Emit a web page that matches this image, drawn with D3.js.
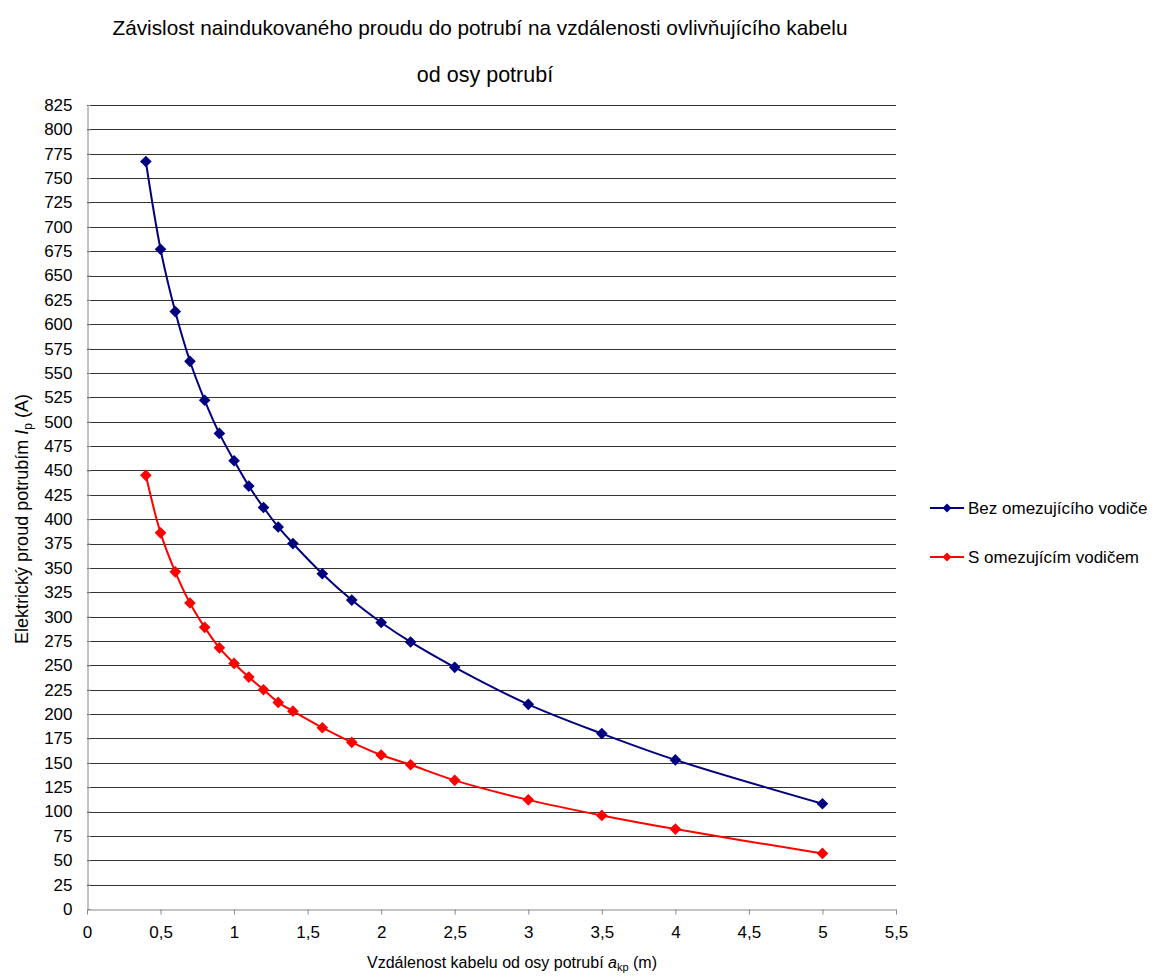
<!DOCTYPE html>
<html>
<head>
<meta charset="utf-8">
<script src="https://cdn.jsdelivr.net/npm/d3@7"></script>
<style>
  body { margin: 0; background: #fff; }
  text { font-family: "Liberation Sans", Arial, sans-serif; fill: #000; }
</style>
</head>
<body>
<div id="chart"></div>
<script>
// distances (m)
const distances = [0.4, 0.5, 0.6, 0.7, 0.8, 0.9, 1.0, 1.1, 1.2, 1.3, 1.4, 1.6, 1.8, 2.0, 2.2, 2.5, 3, 3.5, 4, 5];
// current without limiting conductor (A)
const bezOmezujiciho = [767, 677, 613, 562, 522, 488, 460, 434, 412, 392, 375, 344, 317, 294, 274, 248, 210, 180, 153, 108];
// current with limiting conductor (A)
const sOmezujicim = [445, 386, 346, 314, 289, 268, 252, 238, 225, 212, 203, 186, 171, 158, 148, 132, 112, 96, 82, 57];

const seriesNames = ["Bez omezujícího vodiče", "S omezujícím vodičem"];
const seriesColors = ["#000080", "#ff0000"];
const xTicks = d3.range(0, 5.51, 0.5);
const yTicks = d3.range(0, 826, 25);

const W = 1153, H = 977;
const margin = { top: 105, left: 87, right: 257, bottom: 68 };
const plotW = W - margin.left - margin.right;
const plotH = H - margin.top - margin.bottom;

const svg = d3.select("#chart").append("svg")
    .attr("width", W)
    .attr("height", H);

const g = svg.append("g")
    .attr("transform", "translate(" + margin.left + "," + margin.top + ")");

const x = d3.scaleLinear().domain([0, 5.5]).range([0, plotW]);
const y = d3.scaleLinear().domain([0, 825]).range([plotH, 0]);

const fmt = d => String(d).replace(".", ",");

// gridlines
g.append("g")
    .selectAll("line")
    .data(yTicks.filter(d => d > 0))
    .join("line")
    .attr("x1", 0).attr("x2", plotW)
    .attr("y1", d => Math.round(y(d)) + 0.5)
    .attr("y2", d => Math.round(y(d)) + 0.5)
    .attr("stroke", "#333")
    .attr("stroke-width", 1);

// x axis
const xAxis = g.append("g")
    .attr("transform", "translate(0," + (Math.round(plotH) + 0.5) + ")")
    .call(d3.axisBottom(x).tickValues(xTicks).tickFormat(fmt).tickSize(5).tickSizeOuter(0));
xAxis.select(".domain").attr("stroke", "#888");
xAxis.selectAll(".tick line").attr("stroke", "#888");
xAxis.selectAll(".tick text").attr("font-size", 17).attr("dy", "1.2em")
    .style("font-family", "'Liberation Sans', Arial, sans-serif");

// y axis
const yAxis = g.append("g")
    .attr("transform", "translate(0.5,0)")
    .call(d3.axisRight(y).tickValues(yTicks).tickSize(3).tickPadding(-30).tickSizeOuter(0));
yAxis.select(".domain").attr("stroke", "#888");
yAxis.selectAll(".tick line").attr("stroke", "#888");
yAxis.selectAll(".tick text").attr("font-size", 17).attr("text-anchor", "end")
    .attr("x", -15)
    .style("font-family", "'Liberation Sans', Arial, sans-serif");

// series
const allSeries = [bezOmezujiciho, sOmezujicim];
const line = d3.line()
    .x(d => x(d[0]))
    .y(d => y(d[1]))
    .curve(d3.curveCatmullRom.alpha(0.5));
const diamond = d3.symbol().type(d3.symbolSquare).size(68);

allSeries.forEach((vals, i) => {
    const pts = distances.map((d, j) => [d, vals[j]]);
    g.append("path")
        .datum(pts)
        .attr("fill", "none")
        .attr("stroke", seriesColors[i])
        .attr("stroke-width", 2)
        .attr("d", line);
    g.append("g")
        .selectAll("path")
        .data(pts)
        .join("path")
        .attr("transform", d => "translate(" + x(d[0]) + "," + y(d[1]) + ") rotate(45)")
        .attr("d", diamond)
        .attr("fill", seriesColors[i]);
});

// legend
const legend = svg.append("g").attr("transform", "translate(930,508)");
seriesNames.forEach((name, i) => {
    const row = legend.append("g").attr("transform", "translate(0," + i * 49 + ")");
    row.append("line")
        .attr("x1", 0).attr("x2", 34)
        .attr("stroke", seriesColors[i]).attr("stroke-width", 2);
    row.append("path")
        .attr("transform", "translate(17,0) rotate(45)")
        .attr("d", d3.symbol().type(d3.symbolSquare).size(40))
        .attr("fill", seriesColors[i]);
    row.append("text")
        .attr("x", 38).attr("y", 0).attr("dy", "0.35em")
        .attr("font-size", 17)
        .text(name);
});

// title
svg.append("text")
    .attr("x", 480).attr("y", 35)
    .attr("text-anchor", "middle")
    .attr("font-size", 21)
    .attr("textLength", 735)
    .attr("lengthAdjust", "spacingAndGlyphs")
    .text("Závislost naindukovaného proudu do potrubí na vzdálenosti ovlivňujícího kabelu");
svg.append("text")
    .attr("x", 485).attr("y", 82)
    .attr("text-anchor", "middle")
    .attr("font-size", 21.5)
    .text("od osy potrubí");

// axis titles
const xt = svg.append("text")
    .attr("x", 512).attr("y", 968)
    .attr("text-anchor", "middle")
    .attr("font-size", 16);
xt.append("tspan").text("Vzdálenost kabelu od osy potrubí ");
xt.append("tspan").attr("font-style", "italic").text("a");
xt.append("tspan").attr("font-size", 11).attr("dy", 3).text("kp");
xt.append("tspan").attr("dy", -3).text(" (m)");

const yt = svg.append("text")
    .attr("transform", "translate(28,519) rotate(-90)")
    .attr("text-anchor", "middle")
    .attr("font-size", 18);
yt.append("tspan").text("Elektrický proud potrubím ");
yt.append("tspan").attr("font-style", "italic").text("I");
yt.append("tspan").attr("font-size", 12).attr("dy", 4).text("p");
yt.append("tspan").attr("dy", -4).text(" (A)");
</script>
</body>
</html>
